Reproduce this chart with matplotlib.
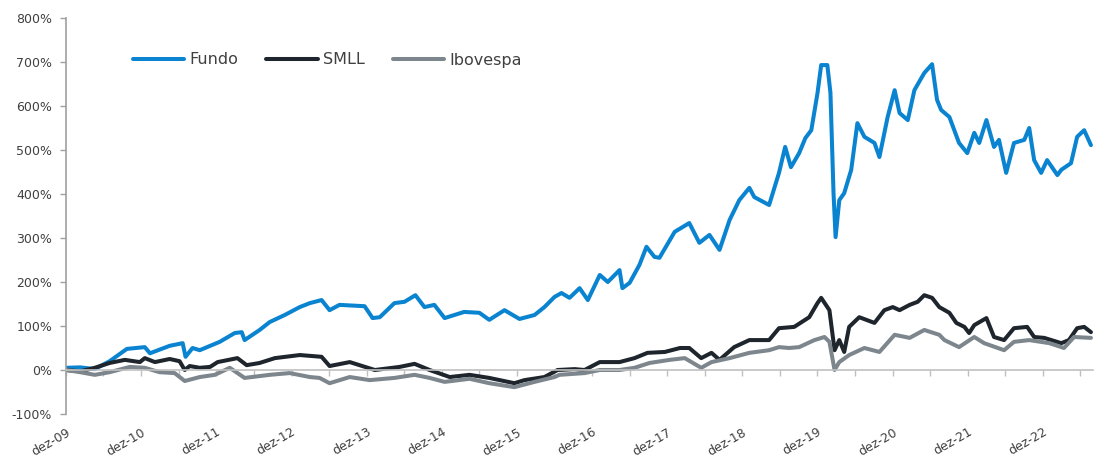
import matplotlib
matplotlib.use("Agg")
import matplotlib.pyplot as plt
import pandas as pd

# ---------------- data ----------------
fundo_dates = ["2009-12-01","2010-02-08","2010-04-20","2010-07-01","2010-09-23","2010-12-19",
    "2011-01-13","2011-04-19","2011-06-21","2011-07-05","2011-08-08","2011-09-12","2011-12-18",
    "2012-02-29","2012-04-03","2012-04-17","2012-06-29","2012-08-17","2012-10-29","2013-01-10",
    "2013-02-28","2013-04-26","2013-06-04","2013-07-22","2013-11-21","2013-12-30","2014-02-03",
    "2014-04-15","2014-06-03","2014-07-26","2014-09-08","2014-10-26","2014-12-15","2015-03-20",
    "2015-06-02","2015-07-20","2015-10-02","2015-12-14","2016-02-25","2016-04-13","2016-06-01",
    "2016-07-05","2016-08-13","2016-10-01","2016-11-10","2017-01-07","2017-02-15","2017-04-13",
    "2017-04-27","2017-06-01","2017-07-19","2017-08-22","2017-09-30","2017-10-24","2018-01-06",
    "2018-03-18","2018-05-06","2018-06-24","2018-08-12","2018-09-30","2018-11-16","2019-01-04",
    "2019-01-28","2019-04-10","2019-05-28","2019-06-27","2019-07-25","2019-09-03","2019-10-03",
    "2019-11-01","2019-12-01","2019-12-19","2020-01-18","2020-02-02","2020-02-17","2020-02-27",
    "2020-03-16","2020-04-09","2020-05-13","2020-06-12","2020-07-16","2020-09-03","2020-09-27",
    "2020-11-06","2020-12-10","2021-01-03","2021-02-12","2021-03-16","2021-05-03","2021-06-10",
    "2021-07-04","2021-07-24","2021-09-02","2021-10-19","2021-11-28","2022-01-01","2022-01-25",
    "2022-03-01","2022-04-07","2022-05-01","2022-06-05","2022-07-13","2022-09-01","2022-09-25",
    "2022-10-19","2022-11-22","2022-12-21","2023-02-09","2023-02-28","2023-04-16","2023-05-16",
    "2023-06-19","2023-07-22"]
fundo_vals = [5, 6, 2, 20, 48, 52,
    38, 55, 61, 30, 50, 45, 64,
    84, 86, 68, 91, 109, 125, 143,
    152, 159, 136, 148, 145, 118, 120,
    152, 155, 170, 143, 148, 118, 132,
    130, 114, 136, 116, 125, 143, 166,
    175, 164, 186, 159, 216, 200, 227,
    186, 198, 239, 280, 257, 255, 314,
    334, 289, 307, 273, 341, 386, 414,
    393, 375, 448, 507, 461, 493, 527,
    545, 629, 693, 693, 630, 402, 302,
    386, 402, 455, 561, 530, 516, 484,
    575, 636, 584, 568, 636, 675, 695,
    614, 591, 575, 516, 493, 539, 516,
    568, 507, 523, 448, 516, 523, 550,
    477, 448, 477, 443, 455, 470, 530,
    545, 511]

smll_dates = ["2009-12-01","2010-02-08","2010-04-20","2010-07-01","2010-09-13","2010-11-25",
    "2010-12-19","2011-02-06","2011-04-19","2011-06-06","2011-07-01","2011-07-25","2011-09-12",
    "2011-11-01","2011-12-08","2012-03-13","2012-04-27","2012-06-29","2012-09-11","2013-01-10",
    "2013-04-26","2013-06-04","2013-09-10","2014-01-10","2014-05-10","2014-07-22","2014-10-03",
    "2015-01-09","2015-04-15","2015-07-20","2015-11-19","2016-01-07","2016-04-13","2016-06-16",
    "2016-09-07","2016-10-25","2017-01-07","2017-04-13","2017-06-25","2017-08-27","2017-11-19",
    "2018-02-01","2018-03-18","2018-05-15","2018-07-04","2018-08-12","2018-10-22","2019-01-04",
    "2019-04-10","2019-05-28","2019-08-10","2019-10-22","2019-12-01","2019-12-19","2020-01-28",
    "2020-02-22","2020-03-16","2020-04-09","2020-05-03","2020-06-21","2020-09-03","2020-10-21",
    "2020-12-01","2021-01-03","2021-02-21","2021-04-01","2021-05-03","2021-06-10","2021-07-15",
    "2021-09-02","2021-10-06","2021-11-14","2021-12-07","2022-01-01","2022-03-01","2022-04-07",
    "2022-05-26","2022-07-13","2022-09-15","2022-10-19","2022-12-07","2023-02-28","2023-04-06",
    "2023-05-16","2023-06-19","2023-07-22"]
smll_vals = [0, -3, 5, 16, 23, 18,
    27, 18, 25, 20, 0, 9, 5,
    7, 18, 27, 11, 16, 27, 34,
    30, 9, 18, 0, 7, 14, 0,
    -16, -11, -18, -30, -23, -16, 0,
    2, 0, 18, 18, 27, 39, 41,
    50, 50, 27, 39, 23, 52, 68,
    68, 95, 98, 120, 152, 164, 136,
    45, 68, 41, 98, 120, 107, 136,
    143, 136, 148, 155, 170, 164, 143,
    130, 107, 98, 84, 102, 118, 75,
    68, 95, 98, 75, 73, 61, 68,
    95, 98, 86]

ibov_dates = ["2009-12-01","2010-02-08","2010-04-20","2010-07-01","2010-10-07","2010-12-19",
    "2011-03-01","2011-05-13","2011-07-01","2011-09-12","2011-11-24","2012-02-05","2012-04-17",
    "2012-08-17","2012-11-22","2013-02-28","2013-04-16","2013-06-04","2013-09-10","2013-12-16",
    "2014-04-15","2014-07-22","2014-10-03","2014-12-15","2015-04-15","2015-07-20","2015-11-19",
    "2016-02-25","2016-06-01","2016-06-25","2016-10-25","2017-01-07","2017-04-13","2017-06-25",
    "2017-09-06","2017-12-12","2018-02-24","2018-05-15","2018-07-04","2018-09-30","2019-01-04",
    "2019-04-10","2019-05-28","2019-07-16","2019-09-03","2019-11-16","2020-01-04","2020-01-28",
    "2020-02-22","2020-03-16","2020-05-03","2020-07-16","2020-09-27","2020-12-10","2021-02-21",
    "2021-05-03","2021-07-15","2021-08-09","2021-10-19","2022-01-01","2022-02-18","2022-05-26",
    "2022-07-13","2022-09-25","2023-01-01","2023-03-13","2023-05-01","2023-07-22"]
ibov_vals = [0, -5, -11, -5, 7, 5,
    -5, -7, -25, -16, -11, 5, -18,
    -11, -7, -16, -18, -30, -16, -23,
    -18, -11, -18, -27, -20, -30, -39,
    -27, -16, -11, -7, 0, 0, 5,
    16, 23, 27, 5, 18, 27, 39,
    45, 52, 50, 52, 68, 75, 64,
    0, 18, 34, 50, 41, 80, 73,
    91, 80, 68, 52, 75, 61, 45,
    64, 68, 61, 50, 75, 73]

series_names = ["Fundo", "SMLL", "Ibovespa"]
series_colors = ["#0A84D0", "#1E252C", "#7D868C"]
y_ticks = [-100, 0, 100, 200, 300, 400, 500, 600, 700, 800]
y_labels = ["-100%", "0%", "100%", "200%", "300%", "400%", "500%", "600%", "700%", "800%"]

# ---------------- figure ----------------
plt.rcParams['font.family'] = ['DejaVu Sans']
fig = plt.figure(figsize=(10.94, 4.57), dpi=100)
ax = fig.add_axes([66/1094, 1 - 414/457, 1 - 66/1094 - 1/1094, (414 - 18)/457])

data = [(fundo_dates, fundo_vals), (smll_dates, smll_vals), (ibov_dates, ibov_vals)]
for (d, v), name, col in zip(data, series_names, series_colors):
    ax.plot(pd.to_datetime(d), v, color=col, lw=2.9, label=name,
            solid_joinstyle='round', solid_capstyle='round')

ax.set_ylim(-100, 800)
ax.set_xlim(pd.Timestamp("2009-12-01"), pd.Timestamp("2023-08-01"))

for s in ["top", "right"]:
    ax.spines[s].set_visible(False)
ax.spines["left"].set_color("#A0A0A0")
ax.spines["left"].set_linewidth(1.2)
ax.spines["bottom"].set_position(("data", 0))
ax.spines["bottom"].set_color("#C0C0C0")
ax.spines["bottom"].set_linewidth(1.2)

ax.tick_params(axis="y", direction="out", length=4.5, width=1, color="#A0A0A0",
               labelsize=9, labelcolor="#404040", pad=5.5)
ax.tick_params(axis="x", direction="out", length=4, width=1, color="#C0C0C0",
               labelsize=9, labelcolor="#404040", pad=36)

ax.set_yticks(y_ticks)
ax.set_yticklabels(y_labels)

xt = pd.date_range("2009-12-01", "2023-07-01", freq="6MS")
xl = [f"dez-{t.year % 100:02d}" if t.month == 12 else "" for t in xt]
ax.set_xticks(xt)
ax.set_xticklabels(xl, rotation=30, ha="right", va="top", rotation_mode="anchor")

leg = ax.legend(loc="center left", bbox_to_anchor=((133 - 66) / 1028, (414 - 60) / 396),
                ncol=3, frameon=False, fontsize=11.5, handlelength=3.2,
                handletextpad=0.35, columnspacing=1.75, borderpad=0, borderaxespad=0)
for t in leg.get_texts():
    t.set_color("#404040")

fig.savefig("out.png", dpi=100)
